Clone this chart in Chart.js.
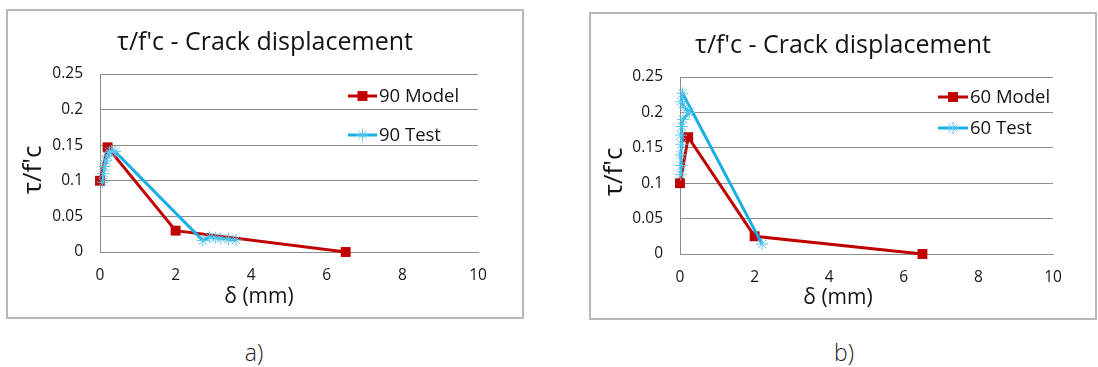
<!DOCTYPE html>
<html>
<head>
<meta charset="utf-8">
<script src="https://cdn.jsdelivr.net/npm/chart.js@4/dist/chart.umd.min.js"></script>
<style>
  html, body { margin: 0; padding: 0; background: #ffffff; }
  body { width: 1098px; height: 367px; position: relative; overflow: hidden; }
  .panel { position: absolute; border: 2px solid #b8b8b8; background: #fff; }
  .panel canvas { display: block; }
  #panelA { left: 6px; top: 9px; width: 514px; height: 306px; }
  #panelB { left: 589px; top: 12px; width: 504px; height: 304px; }
  .caption { position: absolute; font-family: "Open Sans", "Noto Sans", sans-serif; font-weight: 300;
             font-size: 23px; color: #1e1e1e; transform: translate(-50%, -50%); }
</style>
</head>
<body>
<div class="panel" id="panelA"><canvas id="chartA" width="514" height="306"></canvas></div>
<div class="panel" id="panelB"><canvas id="chartB" width="504" height="304"></canvas></div>
<div class="caption" style="left:254px; top:352px;">a)</div>
<div class="caption" style="left:844px; top:352px;">b)</div>
<script>
// Axis ticks
const xTicks = [0, 2, 4, 6, 8, 10];
const xTickLabels = ['0', '2', '4', '6', '8', '10'];
const yTicks = [0, 0.05, 0.1, 0.15, 0.2, 0.25];
const yTickLabels = ['0', '0.05', '0.1', '0.15', '0.2', '0.25'];

// Panel a: 90 series
const delta90Model = [0, 0.2, 2, 6.5];
const tau90Model   = [0.1, 0.147, 0.03, 0];
const delta90Test  = [0.07, 0.09, 0.12, 0.16, 0.2, 0.25, 0.3, 0.4, 2.72, 2.9, 3.05, 3.2, 3.4, 3.6];
const tau90Test    = [0.098, 0.11, 0.12, 0.128, 0.135, 0.14, 0.142, 0.141, 0.016, 0.021, 0.02, 0.019, 0.018, 0.017];

// Panel b: 60 series
const delta60Model = [0, 0.22, 2, 6.5];
const tau60Model   = [0.1, 0.165, 0.025, 0];
const delta60Test  = [0.02, 0.03, 0.02, 0.04, 0.03, 0.05, 0.08, 0.25, 0.12, 0.03, 0.07, 2.2];
const tau60Test    = [0.112, 0.125, 0.14, 0.155, 0.168, 0.18, 0.19, 0.2, 0.207, 0.215, 0.227, 0.014];

const titleText = "τ/f'c - Crack displacement";
const yTitleText = "τ/f'c";
const xTitleText = "δ (mm)";

const FONT = "'Open Sans', 'Noto Sans', sans-serif";
const TEXT = '#141414';
const RED = '#c00000';
const BLUE = '#18aee6';

function pts(xs, ys) { return xs.map((x, i) => ({ x: x, y: ys[i] })); }

// Texts placed around the plot: title, axis titles and the in-plot legend
const annotate = {
  id: 'annotate',
  afterDraw(chart, args, o) {
    const ctx = chart.ctx;
    ctx.save();
    ctx.fillStyle = TEXT;
    // title
    ctx.font = `25px ${FONT}`;
    ctx.textAlign = 'center';
    ctx.textBaseline = 'alphabetic';
    ctx.fillText(titleText, o.titleX, o.titleY);
    // x title
    ctx.font = `21px ${FONT}`;
    ctx.textBaseline = 'middle';
    ctx.fillText(xTitleText, o.xTitleX, o.xTitleY);
    // y title
    ctx.save();
    ctx.translate(o.yTitleX, o.yTitleY);
    ctx.rotate(-Math.PI / 2);
    ctx.font = `500 26px ${FONT}`;
    ctx.fillText(yTitleText, 0, 0);
    ctx.restore();
    // legend
    chart.data.datasets.forEach((ds, i) => {
      const y = o.legendY[i];
      ctx.strokeStyle = ds.borderColor;
      ctx.lineWidth = ds.borderWidth;
      ctx.beginPath();
      ctx.moveTo(o.legendX0, y);
      ctx.lineTo(o.legendX1, y);
      ctx.stroke();
      ctx.fillStyle = ds.pointBackgroundColor;
      ctx.strokeStyle = ds.pointBorderColor;
      ctx.lineWidth = ds.pointBorderWidth;
      Chart.helpers.drawPoint(ctx, { pointStyle: ds.pointStyle, radius: ds.pointRadius, rotation: 0, borderWidth: ds.pointBorderWidth },
        (o.legendX0 + o.legendX1) / 2, y);
      ctx.fillStyle = TEXT;
      ctx.font = `18.5px ${FONT}`;
      ctx.textAlign = 'left';
      ctx.textBaseline = 'middle';
      ctx.fillText(ds.label, o.legendX1 + 2, y + 1);
    });
    ctx.restore();
  }
};

function makeChart(id, modelLabel, testLabel, model, test, geo) {
  return new Chart(document.getElementById(id), {
    type: 'scatter',
    data: {
      datasets: [
        {
          label: modelLabel, data: model, showLine: true, order: 1, clip: false,
          borderColor: RED, borderWidth: 3, pointStyle: 'rect', pointRadius: 7, pointHoverRadius: 7,
          pointBackgroundColor: RED, pointBorderColor: RED, pointBorderWidth: 0
        },
        {
          label: testLabel, data: test, showLine: true, order: 0, clip: false,
          borderColor: BLUE, borderWidth: 3, pointStyle: 'star', pointRadius: 6, pointHoverRadius: 6,
          pointBackgroundColor: '#5cc6ee', pointBorderColor: '#5cc6ee', pointBorderWidth: 1
        }
      ]
    },
    options: {
      responsive: false,
      animation: false,
      events: [],
      layout: { padding: { top: geo.top, right: geo.right, bottom: 0, left: 0 } },
      plugins: {
        legend: { display: false },
        title: { display: false },
        tooltip: { enabled: false },
        annotate: geo.text
      },
      scales: {
        x: {
          type: 'linear', min: xTicks[0], max: xTicks[xTicks.length - 1],
          afterFit(s) { s.height = geo.xHeight; },
          afterBuildTicks(s) { s.ticks = xTicks.map(v => ({ value: v })); },
          grid: { display: false, drawTicks: false },
          border: { display: true, color: '#8c8c8c', width: 1 },
          ticks: { padding: 14, color: TEXT, font: { family: FONT, size: 15.5 },
                   callback: (v, i) => xTickLabels[i] }
        },
        y: {
          type: 'linear', min: yTicks[0], max: yTicks[yTicks.length - 1],
          afterFit(s) { s.width = geo.yWidth; },
          afterBuildTicks(s) { s.ticks = yTicks.map(v => ({ value: v })); },
          grid: { display: true, drawTicks: false, color: '#8c8c8c', lineWidth: 1 },
          border: { display: true, color: '#8c8c8c', width: 1 },
          ticks: { padding: 17, color: TEXT, font: { family: FONT, size: 15.5 },
                   callback: (v, i) => yTickLabels[i] }
        }
      }
    },
    plugins: [annotate]
  });
}

makeChart('chartA', '90 Model', '90 Test', pts(delta90Model, tau90Model), pts(delta90Test, tau90Test), {
  top: 63, right: 44, xHeight: 65, yWidth: 92,
  text: { titleX: 257, titleY: 39, xTitleX: 251, xTitleY: 286, yTitleX: 26, yTitleY: 159,
          legendX0: 340, legendX1: 369, legendY: [85, 124] }
});

makeChart('chartB', '60 Model', '60 Test', pts(delta60Model, tau60Model), pts(delta60Test, tau60Test), {
  top: 63, right: 42, xHeight: 64, yWidth: 89,
  text: { titleX: 252, titleY: 39, xTitleX: 247, xTitleY: 284, yTitleX: 24, yTitleY: 158,
          legendX0: 347, legendX1: 377, legendY: [83, 114] }
});
</script>
</body>
</html>
